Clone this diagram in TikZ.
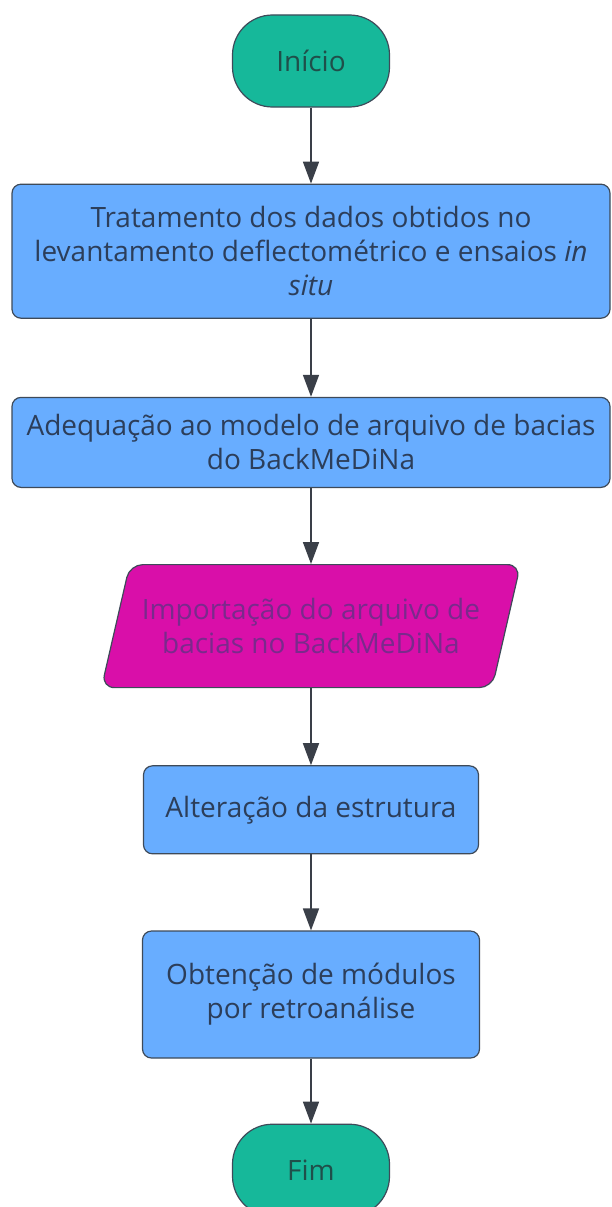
\documentclass[tikz,border=0pt]{standalone}
\usepackage{fontspec}
\setmainfont{Open Sans}
\usepackage{xcolor}
\usetikzlibrary{shapes.geometric, arrows.meta, positioning}

\definecolor{termfill}{HTML}{16B89A}
\definecolor{termtext}{HTML}{1F4F4A}
\definecolor{procfill}{HTML}{68ADFF}
\definecolor{proctext}{HTML}{2C3E5A}
\definecolor{iofill}{HTML}{D90FA9}
\definecolor{iotext}{HTML}{7A2A8C}
\definecolor{edgegray}{HTML}{3E4A59}
\definecolor{arrowgray}{HTML}{3A3F48}

\begin{document}
\begin{tikzpicture}[
    x=1pt, y=1pt,
    node distance=77pt,
    font=\fontsize{28}{34}\selectfont,
    startstop/.style={rectangle, rounded corners=40pt, minimum width=157pt, minimum height=92pt, text centered, draw=edgegray, line width=1.2pt, fill=termfill, text=termtext},
    process/.style={rectangle, rounded corners=9pt, inner xsep=4pt, align=center, draw=edgegray, line width=1.2pt, fill=procfill, text=proctext},
    io/.style={trapezium, trapezium left angle=76, trapezium right angle=104, trapezium stretches body, rounded corners=13pt, inner ysep=29pt, minimum width=419pt, minimum height=123pt, align=center, draw=edgegray, line width=1.2pt, fill=iofill, text=iotext},
    arrow/.style={line width=1.6pt, draw=arrowgray, -{Triangle[width=16pt, length=22pt]}}
]

    \clip (0,0) rectangle (611,-1207);

    \node (start) [startstop] at (311,-61) {Início};
    \node (tratamento) [process, below=76pt of start, minimum width=598pt, minimum height=134pt] {Tratamento dos dados obtidos no\\levantamento deflectométrico e ensaios \textit{in}\\\textit{situ}};
    \node (adequacao) [process, below=78pt of tratamento, minimum width=598pt, minimum height=90pt] {Adequação ao modelo de arquivo de bacias\\do BackMeDiNa};
    \node (importacao) [io, below=76pt of adequacao] {Importação do arquivo de\\bacias no BackMeDiNa};
    \node (alteracao) [process, below=77pt of importacao, minimum width=335pt, minimum height=88pt] {Alteração da estrutura};
    \node (obtencao) [process, below=76pt of alteracao, minimum width=337pt, minimum height=127pt] {Obtenção de módulos\\por retroanálise};
    \node (stop) [startstop, below=65pt of obtencao] {Fim};

    \draw [arrow] (start) -- (tratamento);
    \draw [arrow] (tratamento) -- (adequacao);
    \draw [arrow] (adequacao) -- (importacao);
    \draw [arrow] (importacao) -- (alteracao);
    \draw [arrow] (alteracao) -- (obtencao);
    \draw [arrow] (obtencao) -- (stop);

\end{tikzpicture}
\end{document}
